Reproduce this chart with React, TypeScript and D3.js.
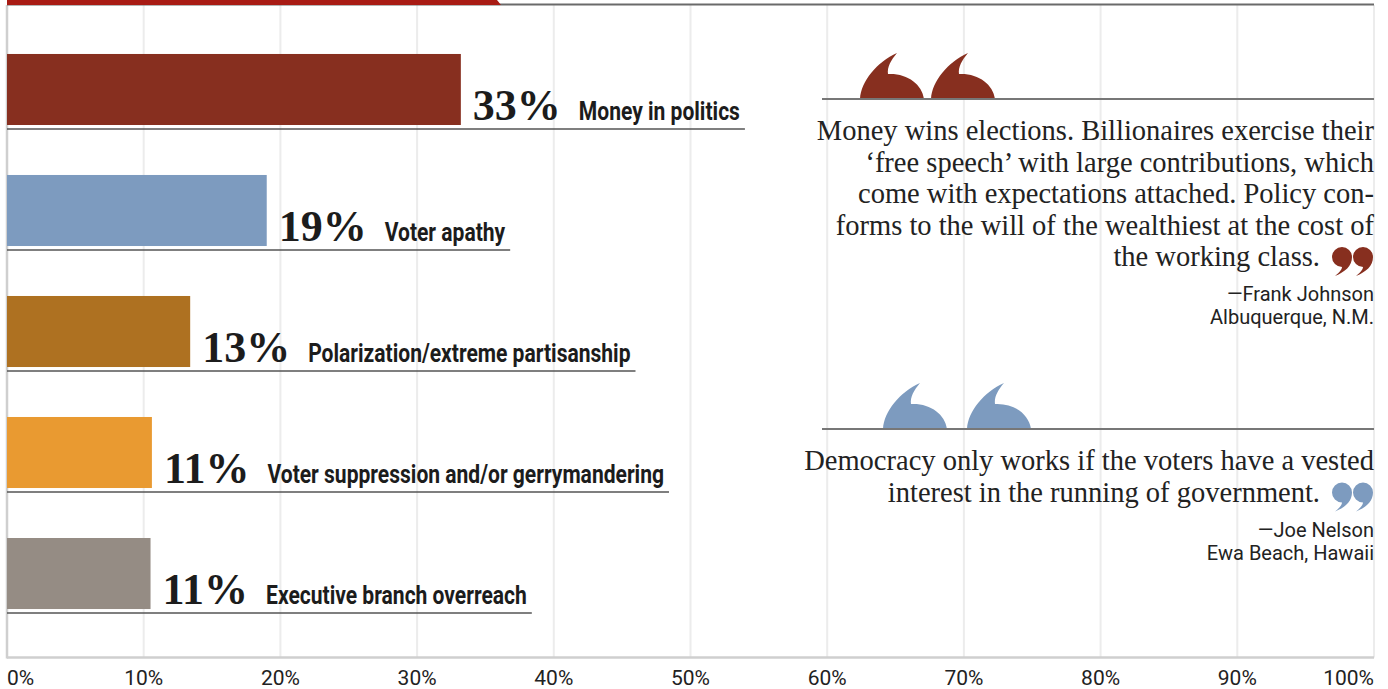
import React, { useEffect, useRef } from "react";
import * as d3 from "d3";

const categories = [
  "Money in politics",
  "Voter apathy",
  "Polarization/extreme partisanship",
  "Voter suppression and/or gerrymandering",
  "Executive branch overreach",
];
const values = [33.2, 19, 13.4, 10.6, 10.5];
const valueLabels = ["33%", "19%", "13%", "11%", "11%"];
const barColors = ["#872f1f", "#7d9bbf", "#ae7121", "#e99a31", "#958c84"];
const xTicks = [0, 10, 20, 30, 40, 50, 60, 70, 80, 90, 100];

const quote1Lines = [
  "Money wins elections. Billionaires exercise their",
  "\u2018free speech\u2019 with large contributions, which",
  "come with expectations attached. Policy con-",
  "forms to the will of the wealthiest at the cost of",
  "the working class.",
];
const quote1Author = ["\u2014Frank Johnson", "Albuquerque, N.M."];
const quote2Lines = [
  "Democracy only works if the voters have a vested",
  "interest in the running of government.",
];
const quote2Author = ["\u2014Joe Nelson", "Ewa Beach, Hawaii"];
const quoteColors = ["#872f1f", "#7d9bbf"];

const W = 1388;
const H = 689;

// decorative quote-mark glyph outlines (local coordinates)
const OPEN_MARK = "M0,46 C1,28 17,9 37,0 C31,7 27,14 28,21 C47,20 62,31 64,46 Z";
const CLOSE_MARK =
  "M-10,0 A10,10 0 0,1 10,0 C10,9 3,15 -7,19 C-2,15 0,12 0,10 A10,10 0 0,1 -10,0 Z";

export default function App() {
  const ref = useRef<SVGSVGElement | null>(null);

  useEffect(() => {
    const svg = d3.select(ref.current);
    svg.selectAll("*").remove();

    const x = d3.scaleLinear().domain([0, 100]).range([7, 1374]);
    const y = d3.scaleBand<string>().domain(categories).range([4, 659]).padding(0.413);
    const bw = y.bandwidth();
    const axisY = 657.5;

    // gridlines
    svg
      .append("g")
      .selectAll("line")
      .data(xTicks.slice(1))
      .join("line")
      .attr("x1", (d) => x(d))
      .attr("x2", (d) => x(d))
      .attr("y1", 5)
      .attr("y2", axisY)
      .attr("stroke", "#ececec")
      .attr("stroke-width", 2);

    // left axis & bottom axis
    svg.append("line").attr("x1", x(0)).attr("x2", x(0)).attr("y1", 5).attr("y2", axisY + 1)
      .attr("stroke", "#cfcfcf").attr("stroke-width", 2.5);
    svg.append("line").attr("x1", x(0)).attr("x2", x(100)).attr("y1", axisY).attr("y2", axisY)
      .attr("stroke", "#cfcfcf").attr("stroke-width", 2.5);

    // tick labels
    svg
      .append("g")
      .selectAll("text")
      .data(xTicks)
      .join("text")
      .attr("x", (d) => x(d))
      .attr("y", 685)
      .attr("text-anchor", (d, i) => (i === 0 ? "start" : i === xTicks.length - 1 ? "end" : "middle"))
      .attr("font-family", "Roboto, 'Noto Sans', sans-serif")
      .attr("font-size", 21)
      .attr("fill", "#222")
      .text((d) => `${d}%`);

    // top rule + red header tab
    svg.append("line").attr("x1", x(0)).attr("x2", x(100)).attr("y1", 4.5).attr("y2", 4.5)
      .attr("stroke", "#6a6a6a").attr("stroke-width", 2);
    svg.append("path").attr("d", "M7,0 L497,0 L501,5 L7,5 Z").attr("fill", "#a81b14");

    // bars
    const g = svg.append("g");
    const labelScale = 0.81;
    categories.forEach((c, i) => {
      const y0 = y(c) as number;
      const bottom = y0 + bw;
      g.append("rect")
        .attr("x", x(0))
        .attr("y", y0)
        .attr("width", x(values[i]) - x(0))
        .attr("height", bw)
        .attr("fill", barColors[i]);
      const vx = x(values[i]) + 12;
      const vt = g
        .append("text")
        .attr("x", vx)
        .attr("y", bottom - 5)
        .attr("font-family", "'Liberation Serif', 'DejaVu Serif', serif")
        .attr("font-weight", "bold")
        .attr("font-size", 44)
        .attr("fill", "#1c1c1c")
        .text(valueLabels[i]);
      const vEnd = vx + (vt.node() as SVGTextElement).getComputedTextLength();
      const lx = vEnd + 18;
      const lt = g
        .append("text")
        .attr("transform", `translate(${lx},${bottom - 5}) scale(${labelScale},1)`)
        .attr("font-family", "Roboto, 'Noto Sans', sans-serif")
        .attr("font-weight", "bold")
        .attr("font-size", 26)
        .attr("fill", "#1c1c1c")
        .text(c);
      const lEnd = lx + (lt.node() as SVGTextElement).getComputedTextLength() * labelScale;
      g.append("line")
        .attr("x1", x(0))
        .attr("x2", lEnd + 5)
        .attr("y1", bottom + 4)
        .attr("y2", bottom + 4)
        .attr("stroke", "#555")
        .attr("stroke-width", 1.6);
    });

    // quotes
    const quotes = [
      { lineY: 99, markX: 860, markGap: 71, lines: quote1Lines, author: quote1Author, color: quoteColors[0] },
      { lineY: 429, markX: 883, markGap: 84, lines: quote2Lines, author: quote2Author, color: quoteColors[1] },
    ];
    quotes.forEach((q) => {
      const right = x(100);
      [0, 1].forEach((k) => {
        svg.append("path")
          .attr("d", OPEN_MARK)
          .attr("transform", `translate(${q.markX + k * q.markGap},${q.lineY - 46})`)
          .attr("fill", q.color);
      });
      svg.append("line").attr("x1", 822).attr("x2", right).attr("y1", q.lineY).attr("y2", q.lineY)
        .attr("stroke", "#777").attr("stroke-width", 2);
      const lh = 31.5;
      q.lines.forEach((l, li) => {
        const last = li === q.lines.length - 1;
        const by = q.lineY + 41 + li * lh;
        svg.append("text")
          .attr("x", last ? right - 54 : right)
          .attr("y", by)
          .attr("text-anchor", "end")
          .attr("font-family", "'Liberation Serif', serif")
          .attr("font-size", 28.5)
          .attr("fill", "#222")
          .text(l);
        if (last) {
          [right - 32, right - 11].forEach((cx) => {
            svg.append("path")
              .attr("d", CLOSE_MARK)
              .attr("transform", `translate(${cx},${by - 9})`)
              .attr("fill", q.color);
          });
        }
      });
      const aY = q.lineY + 41 + (q.lines.length - 1) * lh + 35;
      q.author.forEach((a, ai) => {
        svg.append("text")
          .attr("x", right)
          .attr("y", aY + ai * 23)
          .attr("text-anchor", "end")
          .attr("font-family", "Roboto, 'Noto Sans', sans-serif")
          .attr("font-size", 20)
          .attr("fill", "#222")
          .text(a);
      });
    });
  }, []);

  return (
    <svg
      ref={ref}
      width={W}
      height={H}
      style={{ position: "absolute", left: 0, top: 0, background: "#fff" }}
    />
  );
}
